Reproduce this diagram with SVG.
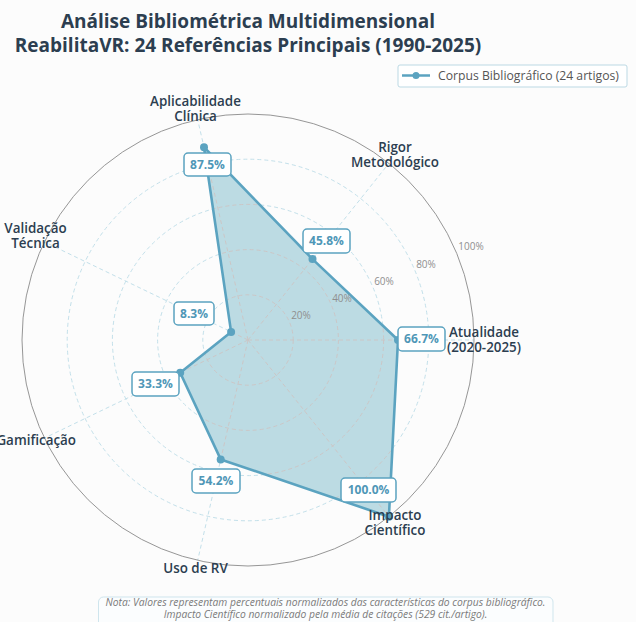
<svg xmlns="http://www.w3.org/2000/svg" width="636" height="622" viewBox="0 0 636 622">
<defs>
<style>
.title{font-family:"Open Sans","Noto Sans",sans-serif;font-weight:700;font-size:19px;fill:#2c3e50;text-anchor:middle}
.axl{font-family:"Open Sans","Noto Sans",sans-serif;font-weight:600;font-size:13.4px;fill:#2c3e50;text-anchor:middle}
.tick{font-family:"Open Sans","Noto Sans",sans-serif;font-size:10px;fill:#8f8f8f;text-anchor:middle}
.vbox{fill:#ffffff;stroke:#5ba3c0;stroke-width:1.5}
.vtxt{font-family:"Open Sans","Noto Sans",sans-serif;font-weight:700;font-size:12px;fill:#4f97b7;text-anchor:middle}
.grid{fill:none;stroke:#c3e0ea;stroke-width:1;stroke-dasharray:4 3}
.gridin{fill:none;stroke:#cbc6c6;stroke-width:1;stroke-dasharray:4 3}
.note{font-family:"Open Sans","Noto Sans",sans-serif;font-style:italic;font-size:10.3px;fill:#7a7a7a;text-anchor:middle}
</style>
<clipPath id="polyclip">
<polygon points="204.0,147.2 312.5,259.1 398,340 388.9,516.7 220.7,459.4 180.2,372.7 231.1,331.9"/>
</clipPath>
<g id="gridshapes">
<circle cx="248" cy="340" r="45.2"/>
<circle cx="248" cy="340" r="90.4"/>
<circle cx="248" cy="340" r="135.6"/>
<circle cx="248" cy="340" r="180.8"/>
<line x1="248" y1="340" x2="197.7" y2="119.7"/>
<line x1="248" y1="340" x2="388.9" y2="163.3"/>
<line x1="248" y1="340" x2="474" y2="340"/>
<line x1="248" y1="340" x2="388.9" y2="516.7"/>
<line x1="248" y1="340" x2="197.7" y2="560.3"/>
<line x1="248" y1="340" x2="44.4" y2="438.1"/>
<line x1="248" y1="340" x2="44.4" y2="241.9"/>
</g>
</defs>
<rect x="0" y="0" width="636" height="622" fill="#fcfcfc"/>

<g id="title">
<text class="title" x="248" y="28">Análise Bibliométrica Multidimensional</text>
<text class="title" x="248" y="52">ReabilitaVR: 24 Referências Principais (1990-2025)</text>
</g>

<g id="legend">
<rect x="398" y="65" width="229" height="22" rx="2" fill="#ffffff" stroke="#bcd9e4" stroke-width="1"/>
<line x1="402" y1="75.5" x2="430" y2="75.5" stroke="#5ba3c0" stroke-width="2.5"/>
<circle cx="416" cy="75.5" r="3.5" fill="#5ba3c0"/>
<text x="438" y="80" font-family="Open Sans, Noto Sans, sans-serif" font-size="12.2" fill="#555555">Corpus Bibliográfico (24 artigos)</text>
</g>

<g id="polar-grid">
<use href="#gridshapes" class="grid"/>
<circle cx="248" cy="340" r="226" fill="none" stroke="#8a8a8a" stroke-width="0.9"/>
</g>

<g id="data-area">
<polygon points="204.0,147.2 312.5,259.1 398,340 388.9,516.7 220.7,459.4 180.2,372.7 231.1,331.9" fill="#bcdbe3"/>
<g clip-path="url(#polyclip)"><use href="#gridshapes" class="gridin"/></g>
<polygon points="204.0,147.2 312.5,259.1 398,340 388.9,516.7 220.7,459.4 180.2,372.7 231.1,331.9" fill="none" stroke="#5ba3c0" stroke-width="2.6" stroke-linejoin="round"/>
<g fill="#5ba3c0">
<circle cx="204.0" cy="147.2" r="4"/>
<circle cx="312.5" cy="259.1" r="4"/>
<circle cx="398" cy="340" r="4"/>
<circle cx="388.9" cy="516.7" r="4"/>
<circle cx="220.7" cy="459.4" r="4"/>
<circle cx="180.2" cy="372.7" r="4"/>
<circle cx="231.1" cy="331.9" r="4"/>
</g>
</g>

<g id="radial-ticks">
<text class="tick" x="301" y="319">20%</text>
<text class="tick" x="342" y="302">40%</text>
<text class="tick" x="384" y="285">60%</text>
<text class="tick" x="426" y="267.5">80%</text>
<text class="tick" x="471" y="250">100%</text>
</g>

<g id="axis-aplicabilidade">
<text class="axl" x="195.5" y="106">Aplicabilidade</text>
<text class="axl" x="195.5" y="121">Clínica</text>
</g>
<g id="axis-rigor">
<text class="axl" x="395" y="152">Rigor</text>
<text class="axl" x="395" y="167">Metodológico</text>
</g>
<g id="axis-atualidade">
<text class="axl" x="484" y="337">Atualidade</text>
<text class="axl" x="484" y="352">(2020-2025)</text>
</g>
<g id="axis-impacto">
<text class="axl" x="395" y="520">Impacto</text>
<text class="axl" x="395" y="535">Científico</text>
</g>
<g id="axis-uso">
<text class="axl" x="195.5" y="573">Uso de RV</text>
</g>
<g id="axis-gamificacao">
<text class="axl" x="76" y="445" style="text-anchor:end">Gamificação</text>
</g>
<g id="axis-validacao">
<text class="axl" x="35.5" y="233">Validação</text>
<text class="axl" x="35.5" y="248">Técnica</text>
</g>

<g id="value-labels">
<g id="val-aplicabilidade"><rect class="vbox" x="184" y="153" width="47" height="23" rx="4"/><text class="vtxt" x="207.5" y="168.5">87.5%</text></g>
<g id="val-rigor"><rect class="vbox" x="303" y="229" width="47" height="24" rx="4"/><text class="vtxt" x="326.5" y="245">45.8%</text></g>
<g id="val-atualidade"><rect class="vbox" x="398" y="327" width="47" height="24" rx="4"/><text class="vtxt" x="421.5" y="343">66.7%</text></g>
<g id="val-impacto"><rect class="vbox" x="341" y="478" width="55" height="24" rx="4"/><text class="vtxt" x="368.5" y="494">100.0%</text></g>
<g id="val-uso"><rect class="vbox" x="192" y="469" width="48" height="24" rx="4"/><text class="vtxt" x="216" y="485">54.2%</text></g>
<g id="val-gamificacao"><rect class="vbox" x="132" y="372" width="47" height="24" rx="4"/><text class="vtxt" x="155.5" y="388">33.3%</text></g>
<g id="val-validacao"><rect class="vbox" x="174" y="302" width="40" height="23" rx="4"/><text class="vtxt" x="194" y="317.5">8.3%</text></g>
</g>

<g id="note">
<rect x="98.5" y="597" width="454.5" height="40" rx="5" fill="#fbfdfe" stroke="#cfe5ed" stroke-width="1"/>
<text class="note" x="325.5" y="606">Nota: Valores representam percentuais normalizados das características do corpus bibliográfico.</text>
<text class="note" x="325.5" y="617.5">Impacto Científico normalizado pela média de citações (529 cit./artigo).</text>
</g>
</svg>
